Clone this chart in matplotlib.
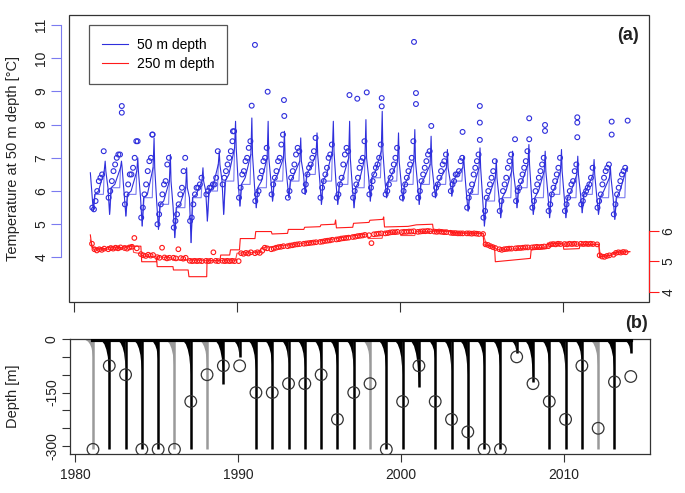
import numpy as np
import matplotlib
matplotlib.use("Agg")
import matplotlib.pyplot as plt
from matplotlib.patches import Rectangle

plt.rcParams['font.family'] = ['Liberation Sans', 'DejaVu Sans']

years = list(range(1981, 2014))

# 50 m model, key values per year
blue_start = 6.55
blue_min = [5.4, 5.3, 5.25, 4.95, 4.85, 4.6, 4.45, 5.1, 5.3, 5.55, 5.5, 5.7, 5.8, 5.9, 5.6, 5.6, 5.5,
            5.7, 5.8, 5.7, 5.6, 5.8, 5.85, 5.4, 4.95, 5.2, 5.5, 5.3, 5.2, 5.2, 5.35, 5.3, 5.15]
blue_mid = [6.0, 6.2, 6.0, 5.9, 5.7, 5.6, 5.9, 6.1, 6.5, 6.4, 6.3, 6.5, 6.5, 6.7, 6.5, 6.4, 6.3,
            6.6, 6.5, 6.4, 6.4, 6.4, 6.5, 6.1, 5.9, 6.0, 6.3, 6.0, 6.1, 6.0, 6.1, 6.0, 6.0]
blue_pre = [6.6, 6.7, 6.6, 6.7, 6.3, 6.1, 6.3, 6.8, 7.3, 7.1, 7.0, 7.0, 6.9, 7.1, 7.2, 7.0, 7.0,
            7.2, 6.9, 6.9, 6.8, 6.7, 6.7, 6.7, 6.4, 6.6, 6.8, 6.6, 6.6, 6.5, 6.5, 6.4, 6.6]
blue_peak = [6.9, 6.9, 7.0, 7.6, 7.1, 6.7, 6.7, 7.2, 8.1, 8.2, 8.1, 7.8, 7.6, 7.75, 8.1, 8.1, 8.15,
             8.4, 7.75, 7.85, 7.65, 7.25, 7.05, 7.3, 6.95, 7.2, 7.4, 7.2, 7.25, 7.05, 6.95, 6.75, 6.7]
blue_hook = [5.9, 6.1, 5.9, 5.8, 5.6, 5.5, 5.8, 6.0, 6.3, 6.2, 6.1, 6.3, 6.3, 6.5, 6.3, 6.2, 6.1,
             6.4, 6.3, 6.2, 6.2, 6.2, 6.3, 5.9, 5.7, 5.8, 6.1, 5.8, 5.9, 5.8, 5.9, 5.8, 5.8]

# 50 m observations, per year
obs50 = [
    [5.5, 5.45, 5.7, 6.0, 6.3, 6.4, 6.5, 7.2],
    [5.8, 6.0, 6.3, 6.6, 6.8, 7.0, 7.1, 7.1],
    [5.6, 5.9, 6.2, 6.5, 6.5, 6.7, 7.0, 7.5],
    [5.2, 5.5, 5.9, 6.2, 6.6, 6.9, 7.0, 7.7],
    [5.0, 5.3, 5.6, 5.9, 6.2, 6.3, 6.8, 7.0],
    [4.9, 5.1, 5.3, 5.6, 5.9, 6.1, 6.6, 7.0],
    [5.1, 5.2, 5.6, 5.9, 6.1, 6.1, 6.2, 6.4],
    [5.9, 6.0, 6.1, 6.1, 6.2, 6.2, 6.4, 7.2],
    [6.2, 6.4, 6.6, 6.8, 7.0, 7.2, 7.5, 7.8],
    [5.8, 6.1, 6.5, 6.6, 6.9, 7.0, 7.3, 7.5],
    [5.7, 5.9, 6.0, 6.4, 6.6, 6.9, 7.0, 7.3],
    [5.9, 6.2, 6.4, 6.6, 6.9, 7.0, 7.4, 7.7],
    [5.8, 6.0, 6.4, 6.6, 6.8, 7.1, 7.3, 7.2],
    [6.0, 6.2, 6.5, 6.7, 6.8, 7.0, 7.2, 7.6],
    [5.8, 6.1, 6.3, 6.5, 6.7, 7.0, 7.1, 7.4],
    [5.8, 5.9, 6.2, 6.4, 6.8, 7.1, 7.3, 7.2],
    [5.8, 6.0, 6.2, 6.4, 6.7, 6.9, 7.0, 7.5],
    [5.9, 6.1, 6.3, 6.5, 6.7, 6.8, 7.0, 7.4],
    [5.9, 6.0, 6.2, 6.4, 6.6, 6.8, 7.0, 7.3],
    [5.8, 6.0, 6.2, 6.4, 6.6, 6.8, 7.0, 7.5],
    [5.8, 6.0, 6.3, 6.5, 6.7, 6.9, 7.1, 7.2],
    [5.9, 6.1, 6.2, 6.4, 6.6, 6.8, 6.9, 7.1],
    [6.0, 6.2, 6.3, 6.5, 6.5, 6.6, 6.9, 7.0],
    [5.5, 5.8, 6.0, 6.2, 6.5, 6.7, 6.9, 7.1],
    [5.2, 5.4, 5.8, 6.0, 6.2, 6.4, 6.6, 6.9],
    [5.4, 5.7, 6.0, 6.2, 6.4, 6.7, 6.9, 7.1],
    [5.7, 6.0, 6.1, 6.3, 6.5, 6.7, 6.9, 7.2],
    [5.5, 5.7, 6.0, 6.2, 6.4, 6.6, 6.8, 7.0],
    [5.4, 5.6, 5.9, 6.1, 6.3, 6.5, 6.7, 7.0],
    [5.4, 5.6, 5.8, 6.0, 6.2, 6.3, 6.6, 6.8],
    [5.6, 5.7, 5.9, 6.0, 6.1, 6.2, 6.4, 6.7],
    [5.5, 5.7, 5.9, 6.2, 6.4, 6.6, 6.7, 6.8],
    [5.3, 5.6, 5.9, 6.1, 6.3, 6.5, 6.6, 6.7],
]
obs50_extra_t = [1982.93, 1982.93, 1991.1, 1990.9, 1991.88, 1992.88, 1992.9, 1996.9, 1997.38, 1997.96,
                 1998.88, 1998.88, 2000.86, 2000.98, 2000.98, 2001.92, 2003.84, 2004.9, 2004.9, 2004.9,
                 2007.06, 2007.93, 2007.93, 2008.9, 2008.9, 2010.88, 2010.88, 2010.88, 2012.99, 2012.99,
                 2013.97, 1983.9, 1984.8, 1989.75]
obs50_extra_v = [8.56, 8.36, 10.4, 8.57, 8.99, 8.74, 8.26, 8.89, 8.78, 8.97,
                 8.8, 8.55, 10.49, 8.95, 8.62, 7.96, 7.78, 8.56, 8.06, 7.54,
                 7.56, 8.19, 7.56, 7.99, 7.81, 8.22, 8.06, 7.62, 8.09, 7.7,
                 8.12, 7.5, 7.7, 7.8]

# 250 m observations (right axis), per year
obs250 = [
    [5.58, 5.40, 5.36, 5.40, 5.38, 5.42],
    [5.40, 5.44, 5.42, 5.45, 5.43, 5.46],
    [5.44, 5.42, 5.46, 5.48, 5.77, 5.43],
    [5.24, 5.20, 5.18, 5.22, 5.19, 5.21],
    [5.14, 5.12, 5.45, 5.13, 5.10, 5.12],
    [5.12, 5.10, 5.40, 5.11, 5.09, 5.12],
    [5.02, 5.01, 5.02, 5.01, 5.02, 5.01],
    [5.02, 5.01, 5.02, 5.30, 5.02, 5.01],
    [5.02, 5.01, 5.02, 5.01, 5.02, 5.01],
    [5.01, 5.27, 5.25, 5.28, 5.26, 5.30],
    [5.27, 5.30, 5.28, 5.35, 5.45, 5.43],
    [5.40, 5.42, 5.45, 5.47, 5.48, 5.50],
    [5.50, 5.52, 5.53, 5.55, 5.56, 5.57],
    [5.58, 5.59, 5.60, 5.61, 5.62, 5.63],
    [5.64, 5.65, 5.67, 5.68, 5.69, 5.71],
    [5.72, 5.73, 5.75, 5.76, 5.77, 5.78],
    [5.80, 5.81, 5.83, 5.84, 5.85, 5.87],
    [5.86, 5.60, 5.89, 5.90, 5.91, 5.92],
    [5.92, 5.93, 5.95, 5.96, 5.96, 5.97],
    [5.96, 5.97, 5.97, 5.98, 5.98, 5.99],
    [5.97, 5.98, 5.99, 5.99, 6.00, 5.99],
    [5.98, 5.97, 5.98, 5.97, 5.96, 5.96],
    [5.94, 5.93, 5.93, 5.92, 5.92, 5.92],
    [5.92, 5.92, 5.91, 5.92, 5.91, 5.90],
    [5.90, 5.56, 5.54, 5.50, 5.47, 5.44],
    [5.40, 5.38, 5.40, 5.41, 5.42, 5.42],
    [5.43, 5.44, 5.44, 5.45, 5.46, 5.46],
    [5.46, 5.47, 5.48, 5.47, 5.48, 5.49],
    [5.50, 5.56, 5.57, 5.56, 5.58, 5.57],
    [5.57, 5.56, 5.58, 5.57, 5.58, 5.57],
    [5.58, 5.57, 5.58, 5.57, 5.58, 5.57],
    [5.56, 5.20, 5.16, 5.15, 5.18, 5.20],
    [5.22, 5.28, 5.30, 5.29, 5.31, 5.30],
]

# 250 m model runs (right axis)
red1_t = [1981.0, 1981.1, 1982.0, 1982.05, 1983.0, 1983.05, 1984.1, 1984.15, 1985.05, 1985.07, 1985.1,
          1986.07, 1986.1, 1987.0, 1987.05, 1988.14, 1988.16, 1988.95, 1989.0, 1989.55, 1989.6, 1990.15,
          1990.2, 1991.1, 1991.15, 1992.1, 1992.15, 1993.1, 1993.15, 1994.1, 1994.15, 1995.1, 1995.15,
          1996.0, 1996.05, 1996.1, 1997.1, 1997.15, 1998.1, 1998.15, 1998.95, 1999.0, 1999.05, 2000.5,
          2001.0, 2002.0, 2002.05, 2003.1, 2003.15, 2005.1, 2005.15, 2005.8, 2005.85, 2008.0, 2008.05,
          2009.0, 2009.05, 2010.0, 2010.05, 2011.0, 2011.05, 2012.2, 2012.25, 2012.9, 2013.2, 2014.1]
red1_v = [5.87, 5.45, 5.42, 5.48, 5.45, 5.50, 5.50, 4.99, 4.99, 5.12, 4.83,
          4.83, 4.72, 4.72, 4.50, 4.50, 5.02, 5.02, 5.21, 5.21, 5.38, 5.38,
          5.75, 5.75, 5.98, 5.98, 5.90, 5.92, 6.05, 6.05, 6.12, 6.14, 6.20,
          6.22, 6.36, 6.10, 6.12, 6.25, 6.28, 6.35, 6.38, 6.46, 6.13, 6.15,
          6.20, 6.22, 6.02, 6.00, 5.95, 5.92, 5.54, 5.50, 4.99, 5.10, 5.38,
          5.42, 5.60, 5.58, 5.40, 5.42, 5.55, 5.55, 5.15, 5.20, 5.30, 5.32]
red2_t = [1981.0, 1981.2, 1983.0, 1983.6, 1983.65, 1984.1, 1984.15, 1986.0, 1986.05, 1989.9, 1990.0,
          1991.4, 1991.5, 1993.4, 1995.5, 1997.1, 1998.0, 1998.05, 1998.9, 1999.0, 2000.0, 2000.05,
          2000.9, 2001.0, 2003.1, 2003.15, 2005.1, 2005.3, 2006.1, 2009.2, 2009.25, 2012.2, 2012.3,
          2013.0, 2013.3, 2014.1]
red2_v = [5.70, 5.38, 5.42, 5.55, 5.30, 5.25, 5.18, 5.12, 5.05, 5.02, 5.27,
          5.30, 5.45, 5.55, 5.70, 5.84, 5.90, 5.75, 5.76, 5.95, 5.96, 5.85,
          5.85, 5.98, 5.98, 5.92, 5.92, 5.54, 5.38, 5.48, 5.57, 5.57, 5.16,
          5.20, 5.30, 5.32]

# mixing depth (m)
mix_years = list(range(1981, 2015))
mix_obs = [-309, -75, -100, -309, -309, -309, -175, -100, -75, -75, -150, -150, -125, -125, -100, -225, -150,
           -125, -309, -175, -75, -175, -225, -260, -309, -309, -50, -125, -175, -225, -75, -250, -120, -105]
mix_model = [-309, -309, -309, -309, -309, -309, -309, -309, -125, -50, -309, -309, -309, -309, -309, -309, -309,
             -309, -309, -309, -135, -309, -309, -309, -309, -309, -40, -120, -309, -309, -309, -309, -309, -40]
mix_grey = [True, False, False, False, False, True, False, True, False, False, False, False, False, False, False,
            False, False, True, False, False, False, False, False, False, False, False, False, False, False,
            False, False, True, False, False]
mix_wedge = [-50, -100, -80, -90, -60, -90, -100, -70, -110, -50, -90, -80, -70, -80, -70, -90, -80,
             -70, -90, -100, -135, -60, -90, -100, -80, -90, -40, -110, -80, -90, -70, -80, -100, -40]
mix_surface = -3

blue = '#2f2fdc'
blue_light = '#7b7bf0'
red = '#ff1a1a'

fig = plt.figure(figsize=(6.85, 4.93), dpi=100)
ax1 = fig.add_axes([69 / 685, 1 - 302 / 493, 580 / 685, 287 / 493])
ax2 = fig.add_axes([70 / 685, 1 - 454 / 493, 580 / 685, 115 / 493])
xlim = (1979.69, 2015.28)

# --- panel (a) ---
# each year: winter trough, slow rise, thin autumn spike
bt = [1981.0]
bv = [blue_start]
for i, y in enumerate(years):
    if i > 0:
        bt.append(y + 0.08)
        bv.append(blue_hook[i])
    bt += [y + 0.18, y + 0.27, y + 0.5, y + 0.85, y + 0.91, y + 0.95]
    bv += [blue_min[i], blue_hook[i], blue_mid[i], blue_pre[i], blue_peak[i], blue_pre[i]]
ht, hv = [], []
for i, y in enumerate(years):
    ht += [y + 0.18, y + 0.3, y + 0.8, y + 0.85, np.nan]
    hv += [blue_min[i], blue_hook[i], blue_hook[i], blue_pre[i], np.nan]
ax1.plot(ht, hv, color=blue_light, lw=0.8, zorder=2)
ax1.plot(bt, bv, color=blue, lw=0.8, zorder=3)

ot, ov = [], []
fr = [0.12, 0.22, 0.32, 0.42, 0.52, 0.62, 0.72, 0.82]
for i, y in enumerate(years):
    for f, v in zip(fr, obs50[i]):
        ot.append(y + f)
        ov.append(v)
ot += obs50_extra_t
ov += obs50_extra_v
ax1.scatter(ot, ov, s=12, facecolors='none', edgecolors=blue, linewidths=0.8, zorder=4)

ax1.set_xlim(*xlim)
ax1.set_ylim(2.66, 11.3)
for s in ['top', 'right', 'bottom']:
    ax1.spines[s].set_visible(False)
ax1.spines['left'].set_position(('outward', 6))
ax1.spines['left'].set_bounds(4, 11)
ax1.spines['left'].set_color(blue_light)
ax1.add_patch(Rectangle((0, 0), 1, 1, transform=ax1.transAxes, fill=False,
                        ec='#333333', lw=0.9, clip_on=False, zorder=10))
ax1.set_yticks(range(4, 12))
ax1.tick_params(axis='y', length=7, color=blue_light, labelsize=10, labelcolor='#222222', pad=2)
for lab in ax1.get_yticklabels():
    lab.set_rotation(90)
    lab.set_va('center')
ax1.set_xticks([1980, 1990, 2000, 2010])
ax1.tick_params(axis='x', length=7, color='#333333', labelbottom=False)
ax1.set_ylabel('Temperature at 50 m depth [°C]', fontsize=10.5, color='#222222')
ax1.yaxis.set_label_coords(-0.085, 0.5)

ax1r = ax1.twinx()
rt, rv = [], []
fr2 = [0.1, 0.25, 0.4, 0.55, 0.7, 0.85]
for i, y in enumerate(years):
    for f, v in zip(fr2, obs250[i]):
        rt.append(y + f)
        rv.append(v)
ax1r.plot(red1_t, red1_v, color=red, lw=0.8, zorder=2)
ax1r.plot(red2_t, red2_v, color=red, lw=0.8, alpha=0.8, zorder=2)
ax1r.scatter(rt, rv, s=11, facecolors='none', edgecolors=red, linewidths=0.8, zorder=3)
ax1r.set_xlim(*xlim)
ax1r.set_ylim(3.67, 13.08)
for s in ['top', 'left', 'bottom']:
    ax1r.spines[s].set_visible(False)
ax1r.spines['right'].set_bounds(4, 6)
ax1r.spines['right'].set_color(red)
ax1r.set_yticks([4, 5, 6])
ax1r.tick_params(axis='y', length=7, color=red, labelsize=10, labelcolor='#222222', pad=2)
for lab in ax1r.get_yticklabels():
    lab.set_rotation(90)
    lab.set_va('center')

h1, = ax1.plot([], [], color=blue, lw=0.8, label='50 m depth')
h2, = ax1.plot([], [], color=red, lw=0.8, label='250 m depth')
leg = ax1.legend(handles=[h1, h2], loc='upper left', bbox_to_anchor=(0.035, 0.965),
                 borderaxespad=0, fontsize=10, fancybox=False, framealpha=1,
                 edgecolor='#555555', borderpad=0.9, handlelength=1.9,
                 handletextpad=0.65, labelspacing=0.4)
leg.get_frame().set_linewidth(0.9)
leg.set_zorder(20)
ax1.text(0.964, 0.927, '(a)', transform=ax1.transAxes, fontsize=13, fontweight='bold',
         ha='center', va='center', color='#222222')

# --- panel (b) ---
wedge_dt = [-0.6, -0.45, -0.3, -0.18, -0.09, -0.04, 0.0]
wedge_fr = [0.0, 0.06, 0.15, 0.3, 0.5, 0.75, 1.0]
for i, y in enumerate(mix_years):
    t0 = y + 0.1
    col = '#9a9a9a' if mix_grey[i] else 'black'
    px = [t0 + d for d in wedge_dt] + [t0]
    py = [f * mix_wedge[i] for f in wedge_fr] + [0]
    ax2.fill(px, py, color=col, lw=0, zorder=2)
    ax2.plot([t0, t0], [0, mix_model[i]], color=col, lw=1.8, zorder=3,
             solid_capstyle='butt')
ax2.plot([mix_years[0] + 0.1, mix_years[-1] + 0.1], [mix_surface, mix_surface],
         color='black', lw=3, zorder=3)
ax2.scatter([y + 0.1 for y in mix_years], mix_obs, s=70, facecolors='none',
            edgecolors='#333333', linewidths=0.9, zorder=5)

ax2.set_xlim(*xlim)
ax2.set_ylim(-322, 0)
for s in ax2.spines.values():
    s.set_color('#333333')
    s.set_linewidth(0.9)
ax2.set_yticks([0, -50, -100, -150, -200, -250, -300])
ax2.set_yticklabels(['0', '', '', '-150', '', '', '-300'])
ax2.tick_params(axis='y', length=6, color='#333333', labelsize=10, labelcolor='#222222', pad=2)
for lab in ax2.get_yticklabels():
    lab.set_rotation(90)
    lab.set_va('center')
ax2.set_xticks([1980, 1990, 2000, 2010])
ax2.tick_params(axis='x', length=6, color='#333333', labelsize=10, labelcolor='#222222', pad=4)
ax2.set_ylabel('Depth [m]', fontsize=10.5, color='#222222')
ax2.yaxis.set_label_coords(-0.086, 0.5)
fig.text(637 / 685, 1 - 323 / 493, '(b)', fontsize=13, fontweight='bold',
         ha='center', va='center', color='#222222')

fig.savefig('out.png', dpi=100)
